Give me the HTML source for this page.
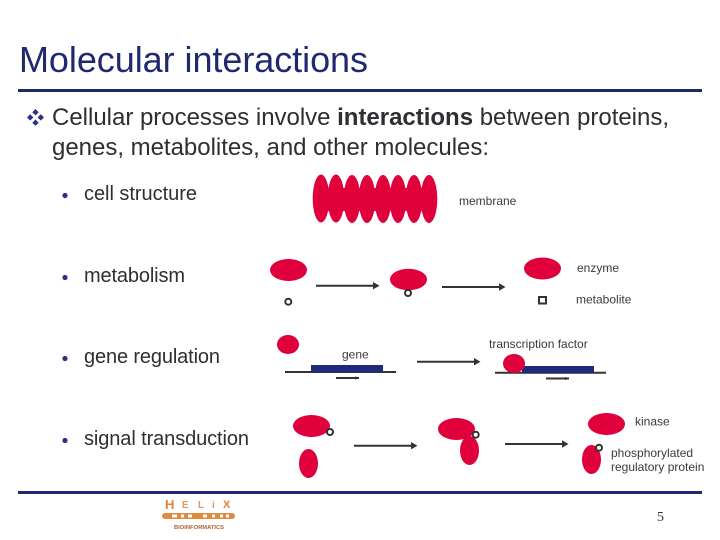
<!DOCTYPE html>
<html>
<head>
<meta charset="utf-8">
<style>
html,body{margin:0;padding:0;background:#fff;width:720px;height:540px;overflow:hidden}
svg{display:block}
text{font-family:"Liberation Sans",sans-serif;fill:#2e2e33}
.s{font-size:12px;fill:#3a3a3a}
.b{font-size:20px}
.m{font-size:24px}
.red{fill:#e0003c}
.blue{fill:#1f2a7a}
.ln{stroke:#333;stroke-width:2;fill:none}
.c{fill:#fff;stroke:#333;stroke-width:2}
.ah{fill:#333}
</style>
</head>
<body>
<svg width="720" height="540" viewBox="0 0 720 540" xmlns="http://www.w3.org/2000/svg">
<text x="19" y="72" textLength="349" lengthAdjust="spacing" style="fill:#1f2a6e;font-size:36px">Molecular interactions</text>
<rect x="18" y="89" width="684" height="3" fill="#1f2a6e"/>

<g fill="#2a3288">
<path d="M35.5 109l3.2 3.2-3.2 3.2-3.2-3.2z"/><path d="M35.5 119.5l3.2 3.2-3.2 3.2-3.2-3.2z"/><path d="M30.2 114.2l3.2 3.2-3.2 3.2-3.2-3.2z"/><path d="M40.8 114.2l3.2 3.2-3.2 3.2-3.2-3.2z"/>
</g>
<text x="52" y="125" class="m" textLength="617" lengthAdjust="spacing">Cellular processes involve <tspan font-weight="bold">interactions</tspan> between proteins,</text>
<text x="52" y="155" class="m" textLength="437" lengthAdjust="spacing">genes, metabolites, and other molecules:</text>

<g fill="#2a3288">
<circle cx="65" cy="195.5" r="2.6"/><circle cx="65" cy="277.5" r="2.6"/><circle cx="65" cy="358.5" r="2.6"/><circle cx="65" cy="440.5" r="2.6"/>
</g>
<text x="84" y="200" class="b" textLength="113" lengthAdjust="spacing">cell structure</text>
<text x="84" y="282" class="b" textLength="101" lengthAdjust="spacing">metabolism</text>
<text x="84" y="363" class="b" textLength="136" lengthAdjust="spacing">gene regulation</text>
<text x="84" y="445" class="b" textLength="165" lengthAdjust="spacing">signal transduction</text>

<!-- membrane -->
<g class="red">
<rect x="321" y="188" width="108" height="23"/>
<ellipse cx="321" cy="198.5" rx="8.3" ry="24"/><ellipse cx="336" cy="198.5" rx="8.3" ry="24"/>
<ellipse cx="352" cy="199" rx="8.3" ry="24"/><ellipse cx="367" cy="199" rx="8.3" ry="24"/>
<ellipse cx="383" cy="199" rx="8.3" ry="24"/><ellipse cx="398" cy="199" rx="8.3" ry="24"/>
<ellipse cx="414" cy="199" rx="8.3" ry="24"/><ellipse cx="429" cy="199" rx="8.3" ry="24"/>
</g>
<text x="459" y="205" class="s">membrane</text>

<!-- metabolism -->
<ellipse class="red" cx="288.5" cy="270" rx="18.5" ry="11"/>
<circle class="c" cx="288.3" cy="301.7" r="3"/>
<path class="ln" d="M316 285.7H375"/><path class="ah" d="M373 282l6.5 3.7-6.5 3.7z"/>
<ellipse class="red" cx="408.5" cy="279.5" rx="18.5" ry="10.7"/>
<circle class="c" cx="408" cy="293" r="3"/>
<path class="ln" d="M442 287H501"/><path class="ah" d="M499 283.3l6.5 3.7-6.5 3.7z"/>
<ellipse class="red" cx="542.5" cy="268.5" rx="18.5" ry="11"/>
<rect x="539" y="297" width="7" height="6.5" fill="#fff" stroke="#333" stroke-width="2"/>
<text x="577" y="272" class="s">enzyme</text>
<text x="576" y="303.5" class="s">metabolite</text>

<!-- gene regulation -->
<ellipse class="red" cx="288" cy="344.5" rx="11" ry="9.5"/>
<text x="342" y="358.5" class="s">gene</text>
<path class="ln" d="M285 372H396"/>
<rect class="blue" x="311" y="365" width="72" height="7.5"/>
<path class="ln" d="M336 378H359"/><path class="ah" d="M355 376.4l4 1.6-4 1.6z"/>
<path class="ln" d="M417 361.7H476"/><path class="ah" d="M474 358l6.5 3.7-6.5 3.7z"/>
<text x="489" y="348" class="s">transcription factor</text>
<path class="ln" d="M495 372.7H606"/>
<rect class="blue" x="522" y="366" width="72" height="7.5"/>
<ellipse class="red" cx="514" cy="363.5" rx="11" ry="9.5"/>
<path class="ln" d="M546 378.5H569"/><path class="ah" d="M565 376.9l4 1.6-4 1.6z"/>

<!-- signal transduction -->
<ellipse class="red" cx="311.5" cy="426" rx="18.5" ry="11"/>
<circle class="c" cx="330" cy="432" r="3"/>
<ellipse class="red" cx="308.5" cy="463.5" rx="9.5" ry="14.5"/>
<path class="ln" d="M354 445.7H413"/><path class="ah" d="M411 442l6.5 3.7-6.5 3.7z"/>
<ellipse class="red" cx="456.5" cy="429" rx="18.5" ry="11"/>
<ellipse class="red" cx="469.5" cy="450.5" rx="9.5" ry="14.5"/>
<circle class="c" cx="475.7" cy="434.7" r="3"/>
<path class="ln" d="M505 444H564"/><path class="ah" d="M562 440.3l6.5 3.7-6.5 3.7z"/>
<ellipse class="red" cx="606.5" cy="424" rx="18.5" ry="11"/>
<ellipse class="red" cx="591.5" cy="459.5" rx="9.5" ry="14.5"/>
<circle class="c" cx="599" cy="447.7" r="3"/>
<text x="635" y="425.5" class="s">kinase</text>
<text x="611" y="457" class="s">phosphorylated</text>
<text x="611" y="471" class="s">regulatory protein</text>

<rect x="18" y="491" width="684" height="3" fill="#1f2a6e"/>

<!-- logo -->
<g style="font-weight:bold">
<text x="165" y="509" style="font-size:13px;fill:#d9853f">H</text>
<text x="182" y="508" style="font-size:10px;fill:#e29a5c">E</text>
<text x="198" y="508" style="font-size:10px;fill:#e29a5c">L</text>
<text x="212" y="508" style="font-size:10px;fill:#e29a5c">i</text>
<text x="223" y="508" style="font-size:11px;fill:#d9853f">X</text>
</g>
<rect x="162" y="513" width="73" height="6" rx="3" fill="#e08a3c"/>
<g fill="#fff">
<rect x="172" y="514.5" width="5" height="3"/><rect x="181" y="514.5" width="3" height="3"/><rect x="188" y="514.5" width="4" height="3"/>
<rect x="203" y="514.5" width="4" height="3"/><rect x="212" y="514.5" width="3" height="3"/><rect x="220" y="514.5" width="3" height="3"/><rect x="226" y="514.5" width="3" height="3"/>
</g>
<text x="174" y="529" textLength="50" lengthAdjust="spacingAndGlyphs" style="font-size:5.5px;font-weight:bold;fill:#a9643a">BIOINFORMATICS</text>

<text x="657" y="521" style="font-size:14px;font-family:'Liberation Serif',serif;fill:#333">5</text>
</svg>
</body>
</html>
